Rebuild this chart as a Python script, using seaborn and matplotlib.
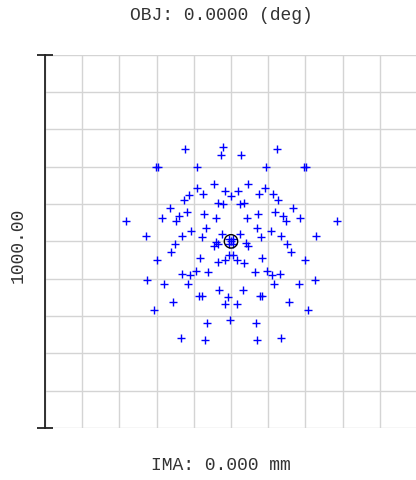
import matplotlib
matplotlib.use("Agg")
import matplotlib.pyplot as plt
import seaborn as sns
import pandas as pd
import numpy as np
from matplotlib.patches import Circle

# spot positions in micrometres (image plane)
spot_x = [-123.5, -20.6, -26.9, 26.9, 123.5, -202.3, -195.1, -92.2, 93.1, 195.1, 202.3,
          -46.5, 46.5, -92.2, -17.0, 18.8, 92.2, -112.8, -76.1, 0.0, 74.3, 113.7,
          -126.2, 126.2, -34.0, -22.4, 23.3, 34.9, -164.7, 165.6, -117.2, -73.4, 72.5, 118.1,
          -184.4, -140.5, -147.7, -40.3, 42.1, 139.6, 147.7, 186.2, -281.9, 283.7,
          -67.1, -107.4, 68.9, 107.4, -228.2, -131.6, -77.9, -23.3, 24.2, 79.7, 134.3, 229.1,
          -150.4, -39.4, -45.6, -36.0, 41.2, 45.6, 150.4, -160.2, 161.1,
          -5.0, 6.0, -5.0, 6.0, 0.0, -4.5, 6.3, -82.3, 83.2, -197.8, 198.7,
          -34.0, -15.2, 16.1, 34.9, -130.7, -109.2, -94.0, -61.8, 63.5, 95.8, 111.0, 131.6,
          -226.4, 226.4, -180.8, -114.6, 116.4, 181.7, -32.2, 33.1, -85.0, -78.8, 77.0, 84.1,
          -8.1, -15.2, 16.1, -154.8, 155.7, -206.7, 207.6, -3.6, -65.3, 67.1,
          -134.3, -68.9, 69.8, 135.1]
spot_y = [246.1, 251.5, 230.9, 231.8, 247.0, 199.6, 199.6, 200.5, 200.5, 199.6, 199.6,
          153.9, 153.9, 142.3, 136.0, 136.0, 142.3, 125.3, 126.2, 120.8, 126.2, 126.2,
          111.9, 111.9, 102.0, 100.2, 99.3, 102.0, 89.5, 88.6, 78.8, 73.4, 74.3, 78.8,
          63.5, 67.1, 54.6, 63.5, 63.5, 67.1, 54.6, 63.5, 55.5, 55.5,
          35.8, 28.6, 35.8, 28.6, 14.3, 14.3, 10.7, 19.7, 20.6, 10.7, 14.3, 14.3,
          -8.1, -2.7, -11.6, -6.0, -3.6, -11.6, -8.1, -29.5, -29.5,
          5.0, 5.0, -6.0, -6.0, 0.0, -35.8, -35.8, -44.8, -44.8, -51.0, -51.0,
          -56.4, -51.0, -51.0, -57.3, -86.8, -89.5, -79.7, -82.3, -82.3, -79.7, -89.5, -86.8,
          -102.9, -102.9, -115.5, -115.5, -115.5, -115.5, -131.6, -131.6, -147.7, -147.7, -147.7, -147.7,
          -150.4, -168.3, -168.3, -162.9, -162.9, -182.6, -182.6, -209.4, -219.3, -219.3,
          -258.7, -264.0, -264.0, -258.7]

airy_radius = 18.0
scale_bar = 1000.0
title_text = "OBJ: 0.0000 (deg)"
bottom_text = "IMA: 0.000 mm"
scale_label = "1000.00"

sns.set_style("white")
plt.rcParams['font.family'] = ['Liberation Mono', 'DejaVu Sans']

fig = plt.figure(figsize=(4.16, 4.80), dpi=100)
ax = fig.add_axes([45/416, 52/480, 372/416, 373.3/480])

half = scale_bar / 2
ax.set_xlim(-half, half)
ax.set_ylim(-half, half)

for v in np.arange(-half, half + 1, scale_bar / 10):
    ax.axvline(v, color='#d4d4d4', lw=1.0, zorder=0)
    ax.axhline(v, color='#d4d4d4', lw=1.0, zorder=0)

df = pd.DataFrame({"x": spot_x, "y": spot_y})
sns.scatterplot(data=df, x="x", y="y", marker="+", color="blue", s=40,
                linewidth=1.0, ax=ax, zorder=3)

ax.add_patch(Circle((0, 0), airy_radius, fill=False, edgecolor='black', lw=1.0, zorder=4))

for s in ['top', 'right', 'bottom']:
    ax.spines[s].set_visible(False)
ax.spines['left'].set_color('#222222')
ax.spines['left'].set_linewidth(1.3)
ax.set_yticks([-half, half])
ax.set_yticklabels([])
ax.tick_params(axis='y', left=True, direction='inout', length=12, width=1.3, color='#222222')
ax.set_xticks([])
ax.set_xlabel("")
ax.set_ylabel("")

fig.text(221/416, 1 - 16/480, title_text, ha='center', va='center', fontsize=13, color='#333333')
fig.text(221/416, 1 - 466/480, bottom_text, ha='center', va='center', fontsize=13, color='#333333')
fig.text(18/416, 1 - 245/480, scale_label, ha='center', va='center', rotation=90, fontsize=13, color='#333333')

fig.savefig("out.png", dpi=100)
